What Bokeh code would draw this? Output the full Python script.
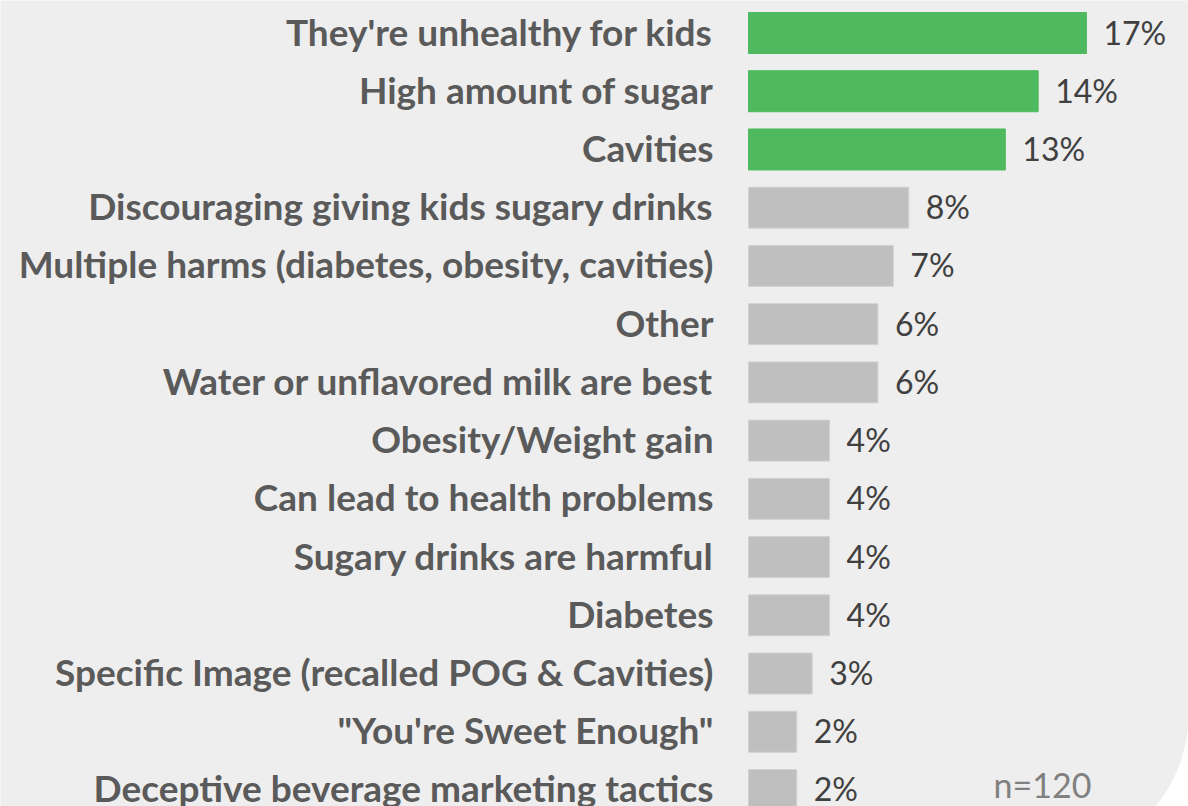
import numpy as np
from bokeh.plotting import figure
from bokeh.models import ColumnDataSource, Range1d
from bokeh.core.properties import value
from bokeh.embed import file_html
from bokeh.resources import INLINE

categories = [
    "They're unhealthy for kids",
    "High amount of sugar",
    "Cavities",
    "Discouraging giving kids sugary drinks",
    "Multiple harms (diabetes, obesity, cavities)",
    "Other",
    "Water or unflavored milk are best",
    "Obesity/Weight gain",
    "Can lead to health problems",
    "Sugary drinks are harmful",
    "Diabetes",
    "Specific Image (recalled POG & Cavities)",
    "\"You're Sweet Enough\"",
    "Deceptive beverage marketing tactics",
]
values = [17.5, 15.0, 13.3, 8.3, 7.5, 6.7, 6.7, 4.2, 4.2, 4.2, 4.2, 3.3, 2.5, 2.5]
value_labels = ["17%", "14%", "13%", "8%", "7%", "6%", "6%", "4%", "4%", "4%", "4%", "3%", "2%", "2%"]
highlight = [True, True, True] + [False] * 11
sample_note = "n=120"

W, H = 1188, 806
PX_PER_UNIT = 19.31
X0_PX = 748
ROW0_PX = 32.5
ROW_PX = 58.23

x_start = -X0_PX / PX_PER_UNIT
x_end = (W - X0_PX) / PX_PER_UNIT
y_top = -ROW0_PX / ROW_PX
y_bottom = (H - ROW0_PX) / ROW_PX

rows = list(range(len(categories)))
colors = ["#4EB95E" if h else "#BFBFBF" for h in highlight]
lines = ["#4EB95E" if h else "#D2D2D2" for h in highlight]

src = ColumnDataSource(dict(
    row=rows, val=values, cat=categories, lab=value_labels,
    color=colors, lcolor=lines,
    lab_x=[v + 17 / PX_PER_UNIT for v in values],
))

p = figure(width=W, height=H, output_backend="svg", toolbar_location=None,
           x_range=Range1d(x_start, x_end), y_range=Range1d(y_bottom, y_top),
           min_border=0, min_border_left=0, min_border_right=0,
           min_border_top=0, min_border_bottom=0)
p.axis.visible = False
p.grid.visible = False
p.outline_line_color = None
p.background_fill_color = "#EEEEEE"
p.border_fill_color = "#EEEEEE"

p.hbar(y="row", left=0, right="val", height=41 / ROW_PX, source=src,
       fill_color="color", line_color="lcolor", line_width=1)

p.text(x=-35 / PX_PER_UNIT, y="row", text="cat", source=src,
       text_align="right", text_baseline="middle", y_offset=-2,
       text_font=value("Lato"), text_font_style="bold",
       text_font_size="37px", text_color="#5A5A5A")

p.text(x="lab_x", y="row", text="lab", source=src,
       text_align="left", text_baseline="middle", y_offset=-1,
       text_font=value("Lato"), text_font_size="32px", text_color="#404040")

p.text(x=[(993 - X0_PX) / PX_PER_UNIT], y=[(784 - ROW0_PX) / ROW_PX], text=[sample_note],
       text_align="left", text_baseline="middle",
       text_font=value("Lato"), text_font_size="34px", text_color="#808080")

# rounded bottom-right corner of the panel (decoration)
cx, cy, r = W - 144, 714, 144
th = np.linspace(0, np.pi / 2, 40)
px_x = [W + 5] + list(cx + r * np.cos(th)) + [W + 5, W + 5]
px_y = [cy] + list(cy + r * np.sin(th)) + [H + 60, cy]
p.patch(x=[(xx - X0_PX) / PX_PER_UNIT for xx in px_x],
        y=[(yy - ROW0_PX) / ROW_PX for yy in px_y],
        fill_color="white", line_color=None)

open("out.html", "w").write(file_html(p, INLINE))
